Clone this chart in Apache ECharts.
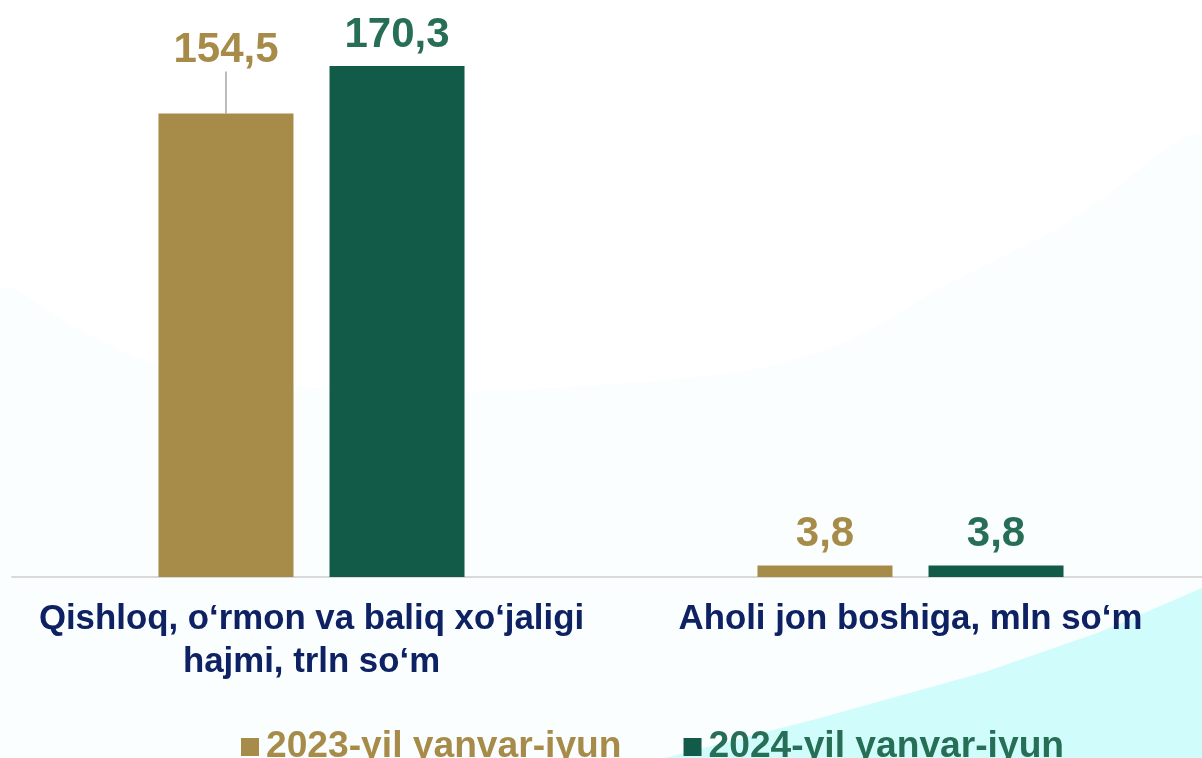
<!DOCTYPE html>
<html>
<head>
<meta charset="utf-8">
<script src="https://cdn.jsdelivr.net/npm/echarts@6/dist/echarts.min.js"></script>
<style>
html,body{margin:0;padding:0;background:#fff;}
#main{width:1202px;height:758px;}
</style>
</head>
<body>
<div id="main"></div>
<script>
var categories = ['Qishloq, o\u2018rmon va baliq xo\u2018jaligi\nhajmi, trln so\u2018m', 'Aholi jon boshiga, mln so\u2018m'];
var seriesNames = ['2023-yil yanvar-iyun', '2024-yil yanvar-iyun'];
var values2023 = [154.5, 3.8];
var values2024 = [170.3, 3.8];

var barColors = ['#A68C48', '#125B48'];
var labelColors = ['#A68C48', '#276E56'];
var FONT = 'Arial, "Liberation Sans", sans-serif';

function fmt(p){ return String(p.value).replace('.', ','); }

var data2023 = values2023.map(function(v, i){
  return i === 0 ? {value: v, labelLine: {show: true, lineStyle: {color: '#A6A6A6', width: 1.5}}} : {value: v};
});

var chart = echarts.init(document.getElementById('main'), null, {renderer:'canvas'});
chart.setOption({
  backgroundColor: '#ffffff',
  animation: false,
  graphic: [
    {type:'polygon', z:-100, silent:true,
     shape:{points:[[0,293],[80,330],[150,362],[230,378],[300,387],[450,392],[600,385],[750,370],[850,340],[950,283],[1050,233],[1100,200],[1202,140],[1202,758],[0,758]], smooth:0.3},
     style:{fill:'#FAFEFE'}},
    {type:'polygon', z:-90, silent:true,
     shape:{points:[[665,758],[820,718],[985,672],[1100,632],[1202,588],[1202,758]]},
     style:{fill:'#D0FCFC'}}
  ],
  grid: {left: 12, width: 1198, top: 7, bottom: 181, containLabel: false, outerBoundsMode: 'none'},
  legend: {
    left: 236, top: 722,
    icon: 'rect', itemWidth: 18, itemHeight: 18, itemGap: 62,
    data: [
      {name: seriesNames[0], textStyle:{color: labelColors[0]}},
      {name: seriesNames[1], textStyle:{color: labelColors[1]}}
    ],
    textStyle: {fontFamily: FONT, fontWeight: 'bold', fontSize: 37.2, lineHeight: 40, padding:[0,0,0,2]}
  },
  xAxis: {
    type: 'category', data: categories,
    axisLine: {show: true, lineStyle: {color: '#D9D9D9', width: 2}},
    axisTick: {show: false},
    axisLabel: {interval: 0, color: '#0E2263', fontFamily: FONT, fontWeight: 'bold', fontSize: 34.8, lineHeight: 43, margin: 21}
  },
  yAxis: {type: 'value', min: 0, max: 190, show: false, splitLine: {show: false}},
  series: [
    {
      name: seriesNames[0], type: 'bar', data: data2023,
      barWidth: 135, barGap: '26.7%',
      itemStyle: {color: barColors[0]},
      label: {show: true, position: 'top', distance: 10, formatter: fmt, color: labelColors[0], fontFamily: FONT, fontWeight: 'bold', fontSize: 42, lineHeight: 42},
      labelLayout: function(p){ if (p.dataIndex === 0) return {dy: -32}; return {}; },
      labelLine: {show: false}
    },
    {
      name: seriesNames[1], type: 'bar', data: values2024,
      barWidth: 135,
      itemStyle: {color: barColors[1]},
      label: {show: true, position: 'top', distance: 10, formatter: fmt, color: labelColors[1], fontFamily: FONT, fontWeight: 'bold', fontSize: 42, lineHeight: 42}
    }
  ]
});
</script>
</body>
</html>
